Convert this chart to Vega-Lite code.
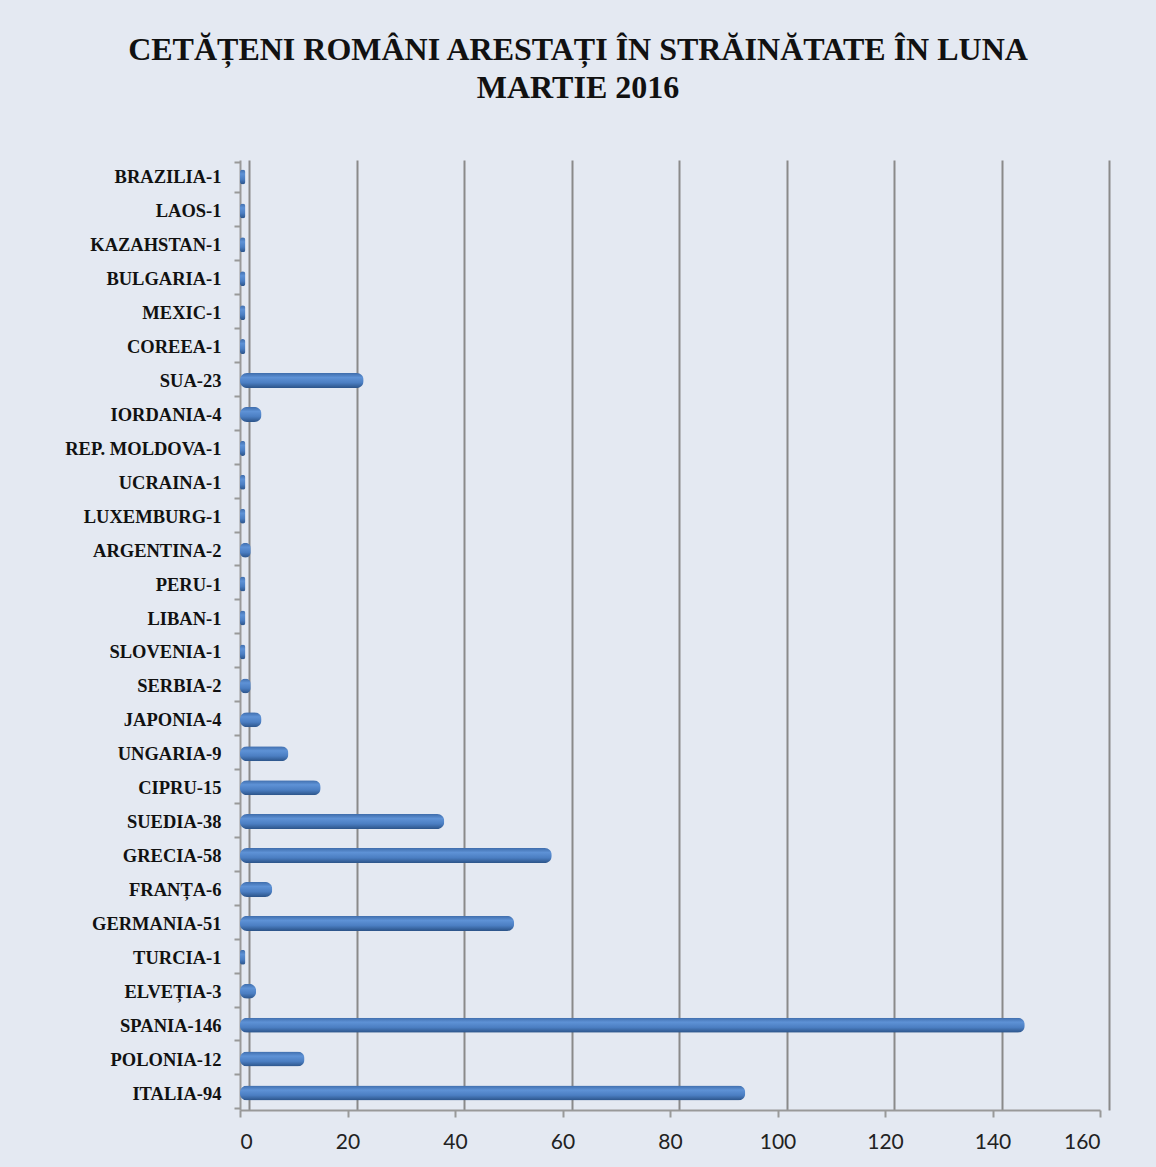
{
  "$schema": "https://vega.github.io/schema/vega-lite/v6.json",
  "autosize": "none",
  "width": 860,
  "height": 950,
  "padding": {"left": 240, "top": 160, "right": 56, "bottom": 57},
  "background": "#e4e9f2",
  "title": {
    "text": ["CETĂȚENI ROMÂNI ARESTAȚI ÎN STRĂINĂTATE  ÎN LUNA", "MARTIE 2016"],
    "font": "Liberation Serif",
    "fontSize": 32,
    "fontWeight": "bold",
    "color": "#111111",
    "lineHeight": 38,
    "anchor": "middle",
    "dx": -92,
    "offset": 46
  },
  "data": {
    "values": [
      {"tara": "BRAZILIA-1", "arestati": 1},
      {"tara": "LAOS-1", "arestati": 1},
      {"tara": "KAZAHSTAN-1", "arestati": 1},
      {"tara": "BULGARIA-1", "arestati": 1},
      {"tara": "MEXIC-1", "arestati": 1},
      {"tara": "COREEA-1", "arestati": 1},
      {"tara": "SUA-23", "arestati": 23},
      {"tara": "IORDANIA-4", "arestati": 4},
      {"tara": "REP. MOLDOVA-1", "arestati": 1},
      {"tara": "UCRAINA-1", "arestati": 1},
      {"tara": "LUXEMBURG-1", "arestati": 1},
      {"tara": "ARGENTINA-2", "arestati": 2},
      {"tara": "PERU-1", "arestati": 1},
      {"tara": "LIBAN-1", "arestati": 1},
      {"tara": "SLOVENIA-1", "arestati": 1},
      {"tara": "SERBIA-2", "arestati": 2},
      {"tara": "JAPONIA-4", "arestati": 4},
      {"tara": "UNGARIA-9", "arestati": 9},
      {"tara": "CIPRU-15", "arestati": 15},
      {"tara": "SUEDIA-38", "arestati": 38},
      {"tara": "GRECIA-58", "arestati": 58},
      {"tara": "FRANȚA-6", "arestati": 6},
      {"tara": "GERMANIA-51", "arestati": 51},
      {"tara": "TURCIA-1", "arestati": 1},
      {"tara": "ELVEȚIA-3", "arestati": 3},
      {"tara": "SPANIA-146", "arestati": 146},
      {"tara": "POLONIA-12", "arestati": 12},
      {"tara": "ITALIA-94", "arestati": 94}
    ]
  },
  "encoding": {
    "y": {
      "field": "tara",
      "type": "nominal",
      "sort": null,
      "axis": {
        "title": null,
        "labelFont": "Liberation Serif",
        "labelFontSize": 18.5,
        "labelFontWeight": "bold",
        "labelColor": "#111111",
        "labelPadding": 13,
        "tickBand": "extent",
        "tickSize": 6,
        "tickColor": "#999999",
        "tickWidth": 2,
        "domainColor": "#999999",
        "domainWidth": 2,
        "grid": false
      }
    }
  },
  "layer": [
    {
      "mark": {"type": "bar", "opacity": 0},
      "encoding": {
        "x": {
          "field": "arestati",
          "type": "quantitative",
          "scale": {"domain": [0, 160]},
          "axis": {
            "title": null,
            "orient": "bottom",
            "values": [0, 20, 40, 60, 80, 100, 120, 140, 160],
            "labels": false,
            "ticks": false,
            "domain": false,
            "grid": true,
            "gridColor": "#8a8a8a",
            "gridWidth": 2,
            "tickOffset": 9
          }
        }
      }
    },
    {
      "mark": {
        "type": "bar",
        "size": 15,
        "cornerRadius": 7,
        "color": {
          "x1": 0, "y1": 0, "x2": 0, "y2": 1,
          "gradient": "linear",
          "stops": [
            {"offset": 0, "color": "#3f6dac"},
            {"offset": 0.3, "color": "#5e92d6"},
            {"offset": 0.65, "color": "#4b7ec2"},
            {"offset": 1, "color": "#2b5388"}
          ]
        }
      },
      "encoding": {
        "x": {
          "field": "arestati",
          "type": "quantitative",
          "scale": {"domain": [0, 160]},
          "axis": {
            "title": null,
            "orient": "bottom",
            "values": [0, 20, 40, 60, 80, 100, 120, 140, 160],
            "grid": false,
            "labelFont": "Lato",
            "labelFontSize": 21,
            "labelColor": "#222222",
            "labelPadding": 14,
            "tickSize": 7,
            "tickColor": "#999999",
            "tickWidth": 2,
            "domainColor": "#999999",
            "domainWidth": 2
          }
        }
      }
    }
  ],
  "resolve": {"axis": {"x": "independent"}},
  "config": {"view": {"stroke": null}}
}
